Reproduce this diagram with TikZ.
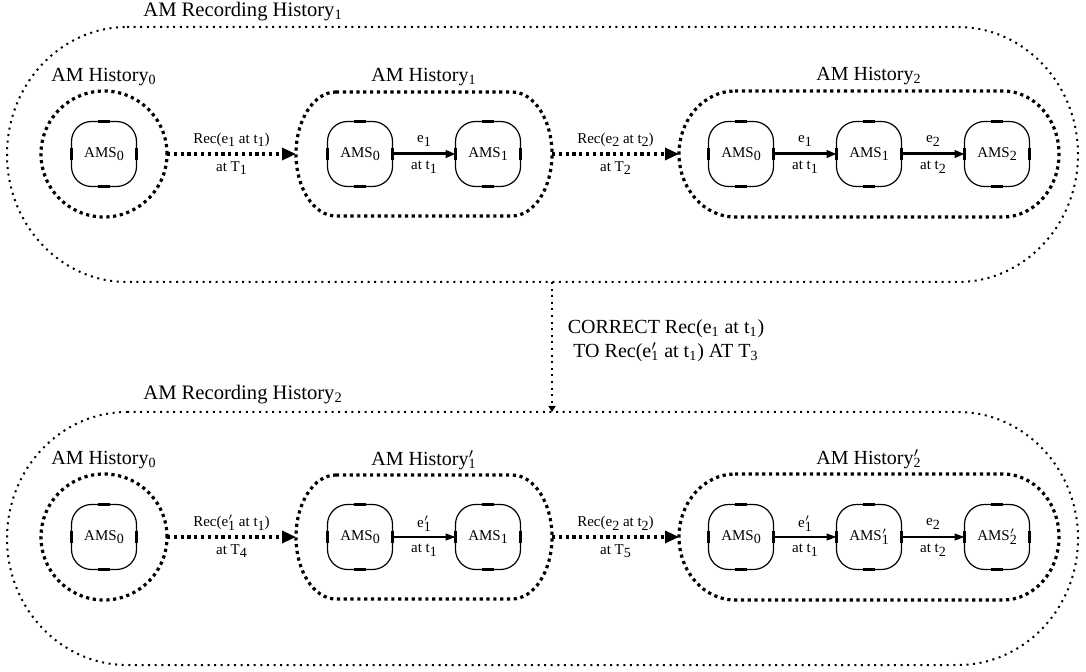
\documentclass[tikz,border=0pt]{standalone}
\usepackage{fontspec}
\setmainfont{Liberation Serif}
\usetikzlibrary{arrows.meta,calc}

% lowered subscript used in the small labels
\newcommand\ssub[1]{\raisebox{-1.8pt}{\fontsize{7}{7}\selectfont #1}}
% prime sitting above a following subscript
\newcommand\sprime{\rlap{$^{\prime}$}}
% dotted outline with half-elliptic ends around a region node
% #1 node, #2 horizontal radius, #3 vertical radius, #4 style
\newcommand\grpoutline[4]{%
  \draw[#4] ([xshift=#2]#1.north west) -- ([xshift=-#2]#1.north east)
    arc[start angle=90,end angle=-90,x radius=#2,y radius=#3]
    -- ([xshift=#2]#1.south west)
    arc[start angle=270,end angle=90,x radius=#2,y radius=#3] -- cycle;}

\begin{document}
\begin{tikzpicture}[x=0.5pt,y=-0.5pt,
  outerdots/.style={line width=1pt,dash pattern=on 1pt off 2.3pt},
  grpdots/.style={line width=1.6pt,dash pattern=on 1.6pt off 1.8pt},
  region/.style={draw=none,inner sep=0pt,outer sep=0pt},
  tickmark/.style={draw,line width=1.6pt,-},
  amsbox/.style={draw,line width=0.6pt,rounded corners=10pt,
    minimum width=32.5pt,minimum height=32.5pt,inner sep=0pt,outer sep=0pt,
    font=\fontsize{7.5}{8}\selectfont,
    append after command={
      ([xshift=-3pt]\tikzlastnode.north) edge[tickmark] ([xshift=3pt]\tikzlastnode.north)
      ([xshift=-3pt]\tikzlastnode.south) edge[tickmark] ([xshift=3pt]\tikzlastnode.south)
      ([yshift=-3pt]\tikzlastnode.west) edge[tickmark] ([yshift=3pt]\tikzlastnode.west)
      ([yshift=-3pt]\tikzlastnode.east) edge[tickmark] ([yshift=3pt]\tikzlastnode.east)}},
  histlabel/.style={font=\fontsize{10}{12}\selectfont,inner sep=0pt},
  reclabel/.style={font=\fontsize{10.3}{12}\selectfont,inner sep=0pt},
  smalllabel/.style={font=\fontsize{7.5}{8}\selectfont,inner sep=0pt},
  recarrow/.style={grpdots,-{Triangle[length=7pt,width=6pt]}},
  stepbold/.style={line width=1.5pt,-{Triangle[length=5pt,width=3.8pt]}},
  stepthin/.style={line width=0.8pt,-{Triangle[length=5pt,width=3.4pt]}},
  corrarrow/.style={outerdots,-{Triangle[length=3pt,width=3.5pt]}}
]
\useasboundingbox (0,0) rectangle (1086,672);

% ---------------- recording history 1 ----------------
\node[region,minimum width=535.5pt,minimum height=127.5pt] (R1) at (542.5,154.5) {};
\grpoutline{R1}{60pt}{63.75pt}{outerdots}
\node[reclabel,anchor=west] (R1l) at (143,12) {AM Recording History\textsubscript{1}};

\node[circle,draw,grpdots,minimum size=63pt,inner sep=0pt,outer sep=0pt] (a0) at (104,154) {};
\node[region,minimum width=128pt,minimum height=62pt] (a1) at (424,154) {};
\node[region,minimum width=190pt,minimum height=63pt] (a2) at (869,154) {};
\grpoutline{a1}{20pt}{31pt}{grpdots}
\grpoutline{a2}{28pt}{31.5pt}{grpdots}
\node[histlabel] (a0l) at ([yshift=7pt]a0.north) {AM History\textsubscript{0}};
\node[histlabel] (a1l) at ([yshift=7.5pt]a1.north) {AM History\textsubscript{1}};
\node[histlabel] (a2l) at ([yshift=7.5pt]a2.north) {AM History\textsubscript{2}};

\node[amsbox] (a0s0) at (104,154) {AMS\ssub{0}};
\node[amsbox] (a1s0) at (360,154) {AMS\ssub{0}};
\node[amsbox] (a1s1) at (488,154) {AMS\ssub{1}};
\node[amsbox] (a2s0) at (741,154) {AMS\ssub{0}};
\node[amsbox] (a2s1) at (869,154) {AMS\ssub{1}};
\node[amsbox] (a2s2) at (997,154) {AMS\ssub{2}};

\draw[recarrow] (a0.east) -- (a1.west)
  node[midway,smalllabel,yshift=7pt] {Rec(e\ssub{1} at t\ssub{1})}
  node[midway,smalllabel,yshift=-7pt] {at T\ssub{1}};
\draw[recarrow] (a1.east) -- (a2.west)
  node[midway,smalllabel,yshift=7pt] {Rec(e\ssub{2} at t\ssub{2})}
  node[midway,smalllabel,yshift=-7pt] {at T\ssub{2}};

\draw[stepbold] (a1s0.east) -- (a1s1.west)
  node[midway,smalllabel,yshift=6.5pt] {e\ssub{1}}
  node[midway,smalllabel,yshift=-6.5pt] {at t\ssub{1}};
\draw[stepbold] (a2s0.east) -- (a2s1.west)
  node[midway,smalllabel,yshift=6.5pt] {e\ssub{1}}
  node[midway,smalllabel,yshift=-6.5pt] {at t\ssub{1}};
\draw[stepbold] (a2s1.east) -- (a2s2.west)
  node[midway,smalllabel,yshift=6.5pt] {e\ssub{2}}
  node[midway,smalllabel,yshift=-6.5pt] {at t\ssub{2}};

% ---------------- recording history 2 ----------------
\node[region,minimum width=535.5pt,minimum height=126.5pt] (R2) at (542.5,538.5) {};
\grpoutline{R2}{60pt}{63.25pt}{outerdots}
\node[reclabel,anchor=west] (R2l) at (143,395) {AM Recording History\textsubscript{2}};

\node[circle,draw,grpdots,minimum size=63pt,inner sep=0pt,outer sep=0pt] (b0) at (104,537) {};
\node[region,minimum width=128pt,minimum height=62pt] (b1) at (424,537) {};
\node[region,minimum width=190pt,minimum height=63pt] (b2) at (869,537) {};
\grpoutline{b1}{20pt}{31pt}{grpdots}
\grpoutline{b2}{28pt}{31.5pt}{grpdots}
\node[histlabel] (b0l) at ([yshift=7pt]b0.north) {AM History\textsubscript{0}};
\node[histlabel] (b1l) at ([yshift=7.5pt]b1.north) {AM History\sprime\textsubscript{1}};
\node[histlabel] (b2l) at ([yshift=7.5pt]b2.north) {AM History\sprime\textsubscript{2}};

\node[amsbox] (b0s0) at (104,537) {AMS\ssub{0}};
\node[amsbox] (b1s0) at (360,537) {AMS\ssub{0}};
\node[amsbox] (b1s1) at (488,537) {AMS\ssub{1}};
\node[amsbox] (b2s0) at (741,537) {AMS\ssub{0}};
\node[amsbox] (b2s1) at (869,537) {AMS\sprime\ssub{1}};
\node[amsbox] (b2s2) at (997,537) {AMS\sprime\ssub{2}};

\draw[recarrow] (b0.east) -- (b1.west)
  node[midway,smalllabel,yshift=7pt] {Rec(e\sprime\ssub{1} at t\ssub{1})}
  node[midway,smalllabel,yshift=-7pt] {at T\ssub{4}};
\draw[recarrow] (b1.east) -- (b2.west)
  node[midway,smalllabel,yshift=7pt] {Rec(e\ssub{2} at t\ssub{2})}
  node[midway,smalllabel,yshift=-7pt] {at T\ssub{5}};

\draw[stepthin] (b1s0.east) -- (b1s1.west)
  node[midway,smalllabel,yshift=6.5pt] {e\sprime\ssub{1}}
  node[midway,smalllabel,yshift=-6.5pt] {at t\ssub{1}};
\draw[stepthin] (b2s0.east) -- (b2s1.west)
  node[midway,smalllabel,yshift=6.5pt] {e\sprime\ssub{1}}
  node[midway,smalllabel,yshift=-6.5pt] {at t\ssub{1}};
\draw[stepthin] (b2s1.east) -- (b2s2.west)
  node[midway,smalllabel,yshift=6.5pt] {e\ssub{2}}
  node[midway,smalllabel,yshift=-6.5pt] {at t\ssub{2}};

% ---------------- correction between the two recordings ----------------
\draw[corrarrow] (R1.south -| a1.east) -- (R2.north -| a1.east);
\node[histlabel,align=center,font=\fontsize{10}{12}\selectfont] (corr) at (666,341)
  {CORRECT Rec(e\textsubscript{1} at t\textsubscript{1})\\
   TO Rec(e\sprime\textsubscript{1} at t\textsubscript{1}) AT T\textsubscript{3}};
\end{tikzpicture}
\end{document}
